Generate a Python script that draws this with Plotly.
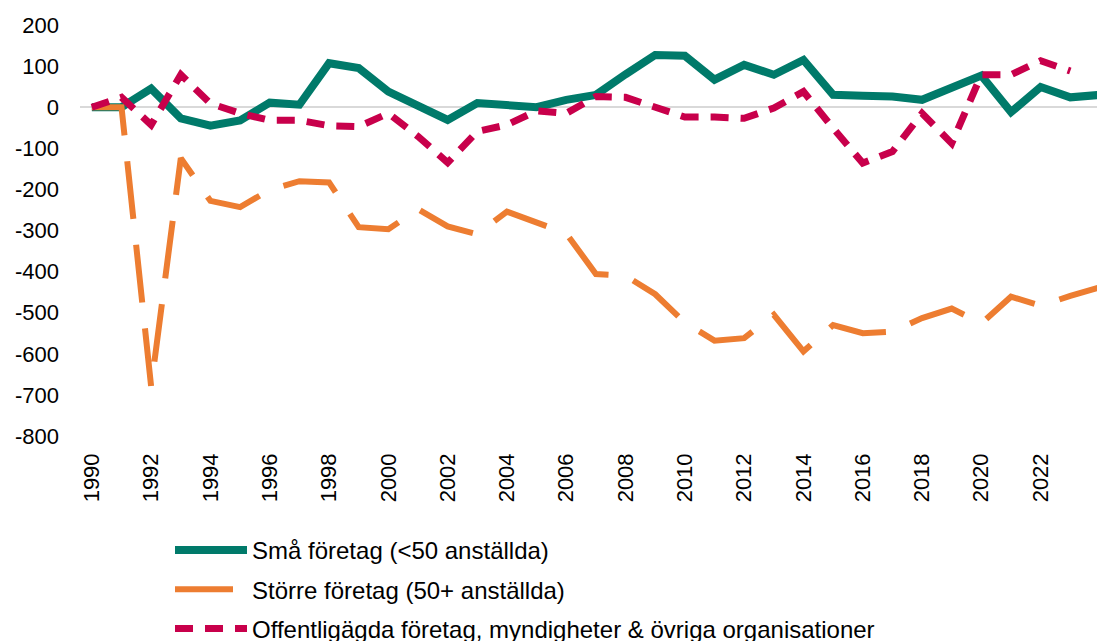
import plotly.graph_objects as go

years = list(range(1990, 2025))

sma = [0, 0, 45, -27, -45, -32, 11, 6, 107, 95, 38, 4, -31, 10, 4, 0,
       18, 30, 80, 127, 125, 67, 103, 79, 115, 30, 28, 26, 18, 50, 77, -12,
       49, 24, 30]

storre = [0, 0, -680, -124, -228, -243, -201, -180, -183, -292, -297, -248,
          -290, -309, -254, -282, -307, -406, -410, -455, -524, -568, -562,
          -505, -594, -530, -550, -546, -513, -490, -526, -461, -483, -459,
          -438]

offentliga = [0, 24, -43, 79, 9, -15, -32, -32, -45, -47, -15, -71, -135,
              -59, -43, -9, -15, 26, 24, -2, -24, -24, -27, -2, 38, -51,
              -136, -108, -15, -88, 79, 79, 113, 88, None]

names = ["Små företag (<50 anställda)",
         "Större företag (50+ anställda)",
         "Offentligägda företag, myndigheter & övriga organisationer"]

xtick_vals = list(range(1990, 2023, 2))
ytick_vals = list(range(-800, 201, 100))
ytick_text = [str(v) for v in ytick_vals]

font_family = "Arial, Liberation Sans, sans-serif"

fig = go.Figure()
fig.add_trace(go.Scatter(x=years, y=sma, mode="lines", name=names[0],
                         legendgroup="a",
                         line=dict(color="#007A6A", width=8)))
fig.add_trace(go.Scatter(x=years, y=storre, mode="lines", name=names[1],
                         legendgroup="b",
                         line=dict(color="#ED7D31", width=6, dash="58px,26px")))
fig.add_trace(go.Scatter(x=years, y=offentliga, mode="lines", name=names[2],
                         legendgroup="c", connectgaps=False,
                         line=dict(color="#C8004B", width=7, dash="18px,12px")))

fig.update_layout(
    width=1105, height=641,
    margin=dict(l=72, r=0, t=17, b=213, autoexpand=False),
    paper_bgcolor="white", plot_bgcolor="white",
    font=dict(family=font_family, size=22, color="#000000"),
    showlegend=True,
    legend=dict(
        xref="container", yref="container",
        x=162 / 1105, y=1 - 520 / 641, xanchor="left", yanchor="top",
        orientation="v", traceorder="grouped", tracegroupgap=5,
        itemwidth=72, font=dict(size=24, family=font_family),
        bgcolor="rgba(0,0,0,0)",
    ),
    xaxis=dict(
        range=[1989.6, 2024.44], tickmode="array", tickvals=xtick_vals,
        tickangle=-90, showgrid=False, zeroline=False, showline=False,
        ticks="", ticklabelstandoff=12, automargin=False,
        tickfont=dict(size=22, family=font_family, color="#000000"),
    ),
    yaxis=dict(
        range=[-800, 200], tickmode="array", tickvals=ytick_vals,
        ticktext=ytick_text, showgrid=False, zeroline=True,
        zerolinecolor="#D9D9D9", zerolinewidth=2, showline=False,
        ticks="", ticklabelstandoff=20, automargin=False,
        tickfont=dict(size=22, family=font_family, color="#000000"),
    ),
)

fig.write_html("out.html")
